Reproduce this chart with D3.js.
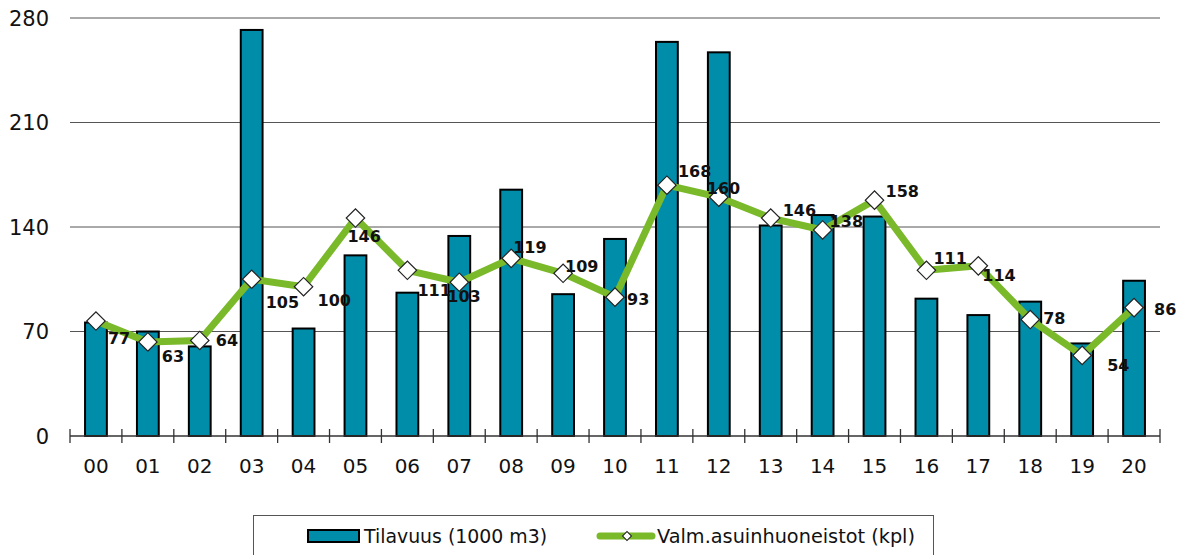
<!DOCTYPE html>
<html><head><meta charset="utf-8">
<script src="https://cdn.jsdelivr.net/npm/d3@7"></script>
<style>body{margin:0;background:#fff}svg{display:block}</style>
</head><body><div id="chart"></div>
<script>
const categories = ["00","01","02","03","04","05","06","07","08","09","10","11","12","13","14","15","16","17","18","19","20"];
const volume = [76,70,60,272,72,121,96,134,165,95,132,264,257,141,148,147,92,81,90,62,104];
const dwellings = [77,63,64,105,100,146,111,103,119,109,93,168,160,146,138,158,111,114,78,54,86];
const yTicks = [0,70,140,210,280];
const seriesNames = ["Tilavuus (1000 m3)","Valm.asuinhuoneistot (kpl)"];
// label offsets (layout only)
const labelOffsets = [[12,17],[14,14],[16,0],[14,23],[14,14],[-8,18],[10,20],[-12,14],[2,-11],[2,-7],[12,2],[11,-14],[-12,-9],[12,-8],[7,-9],[11,-9],[7,-12],[4,9],[13,-1],[25,10],[20,2]];

const W=1178,H=555;
const svg=d3.select("#chart").append("svg").attr("width",W).attr("height",H);
const x=d3.scaleBand().domain(categories).range([70,1160]).paddingInner(0.58).paddingOuter(0.29);
const xb=d3.scaleBand().domain(categories).range([70,1160]);
const y=d3.scaleLinear().domain([0,280]).range([436,18]);

// gridlines
svg.append("g").selectAll("line").data(yTicks.filter(d=>d>0)).join("line")
  .attr("x1",70).attr("x2",1160).attr("y1",d=>y(d)).attr("y2",d=>y(d))
  .attr("stroke","#555").attr("stroke-width",1);
// y labels
svg.append("g").selectAll("text").data(yTicks).join("text")
  .attr("x",49).attr("y",d=>y(d)).attr("dy","0.36em").attr("text-anchor","end")
  .attr("font-family","DejaVu Sans").attr("font-size",21).attr("fill","#111").text(d=>d);

// bars
svg.append("g").selectAll("rect").data(volume).join("rect")
  .attr("x",(d,i)=>x(categories[i])).attr("width",x.bandwidth())
  .attr("y",d=>y(d)).attr("height",d=>y(0)-y(d))
  .attr("fill","#008DAA").attr("stroke","#000").attr("stroke-width",2);

// x axis
const xa=svg.append("g");
xa.append("line").attr("x1",70).attr("x2",1160).attr("y1",y(0)).attr("y2",y(0)).attr("stroke","#333").attr("stroke-width",1.5);
const bounds=categories.map(c=>xb(c)).concat([1160]);
xa.selectAll("line.t").data(bounds).join("line").attr("class","t")
  .attr("x1",d=>d).attr("x2",d=>d).attr("y1",y(0)-7).attr("y2",y(0)+7).attr("stroke","#333").attr("stroke-width",1.3);
xa.selectAll("text").data(categories).join("text")
  .attr("x",d=>xb(d)+xb.bandwidth()/2).attr("y",466).attr("dy","0.36em").attr("text-anchor","middle")
  .attr("font-family","DejaVu Sans").attr("font-size",20).attr("fill","#111").text(d=>d);

// line
const cx=i=>xb(categories[i])+xb.bandwidth()/2;
const line=d3.line().x((d,i)=>cx(i)).y(d=>y(d));
svg.append("path").datum(dwellings).attr("d",line).attr("fill","none")
  .attr("stroke","#7AB92A").attr("stroke-width",7).attr("stroke-linejoin","round");
svg.append("g").selectAll("path").data(dwellings).join("path")
  .attr("transform",(d,i)=>`translate(${cx(i)},${y(d)}) rotate(45)`)
  .attr("d",d3.symbol().type(d3.symbolSquare).size(170)())
  .attr("fill","#fff").attr("stroke","#222").attr("stroke-width",1.2);
// labels
svg.append("g").selectAll("text").data(dwellings).join("text")
  .attr("x",(d,i)=>cx(i)+labelOffsets[i][0]).attr("y",(d,i)=>y(d)+labelOffsets[i][1])
  .attr("dy","0.36em").attr("font-family","DejaVu Sans").attr("font-weight","bold")
  .attr("font-size",16).attr("fill","#111").text(d=>d);

// legend
const lg=svg.append("g");
lg.append("rect").attr("x",253.5).attr("y",515.5).attr("width",680).attr("height",45).attr("fill","#fff").attr("stroke","#555").attr("stroke-width",1);
lg.append("rect").attr("x",308).attr("y",530).attr("width",51).attr("height",12).attr("fill","#008DAA").attr("stroke","#000").attr("stroke-width",2);
lg.append("text").attr("x",364).attr("y",536).attr("dy","0.36em").attr("font-family","DejaVu Sans").attr("font-size",19)
  .attr("textLength",183).attr("lengthAdjust","spacingAndGlyphs").attr("fill","#111").text(seriesNames[0]);
lg.append("line").attr("x1",600).attr("x2",652).attr("y1",536).attr("y2",536).attr("stroke","#7AB92A").attr("stroke-width",7).attr("stroke-linecap","round");
lg.append("path").attr("transform","translate(627,536) rotate(45)").attr("d",d3.symbol().type(d3.symbolSquare).size(40)())
  .attr("fill","#fff").attr("stroke","#222").attr("stroke-width",1);
lg.append("text").attr("x",657).attr("y",536).attr("dy","0.36em").attr("font-family","DejaVu Sans").attr("font-size",19)
  .attr("textLength",258).attr("lengthAdjust","spacingAndGlyphs").attr("fill","#111").text(seriesNames[1]);
</script></body></html>
